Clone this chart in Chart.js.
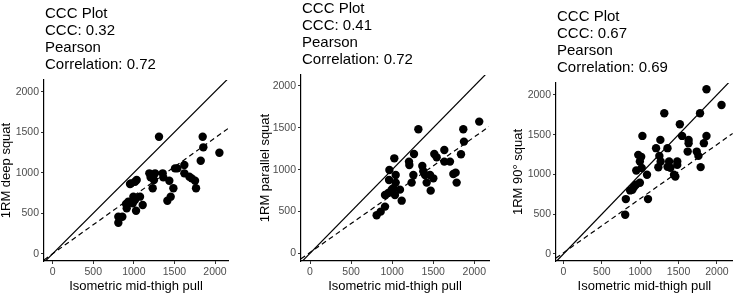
<!DOCTYPE html>
<html><head><meta charset="utf-8">
<script src="https://cdn.jsdelivr.net/npm/chart.js@4"></script>
<style>
html,body{margin:0;padding:0;background:#fff;overflow:hidden;}
#wrap{position:relative;width:737px;height:294px;}
canvas{position:absolute;left:0;top:0;}
</style></head><body>
<div id="wrap">
<canvas id="c1" width="737" height="294"></canvas>
<canvas id="c2" width="737" height="294"></canvas>
<canvas id="c3" width="737" height="294"></canvas>
</div>
<script>
// ---------- data ----------
const tickValues = [0, 500, 1000, 1500, 2000];
const xAxisTitle = 'Isometric mid-thigh pull';
const yAxisTitles = ['1RM deep squat', '1RM parallel squat', '1RM 90° squat'];
const titleDeep = ['CCC Plot', 'CCC: 0.32', 'Pearson', 'Correlation: 0.72'];
const titleParallel = ['CCC Plot', 'CCC: 0.41', 'Pearson', 'Correlation: 0.72'];
const titleNinety = ['CCC Plot', 'CCC: 0.67', 'Pearson', 'Correlation: 0.69'];

const deepX = [809,858,809,904,912,932,953,965,1014,1035,994,1014,1027,986,1076,1109,1191,1207,1261,1248,1232,1310,1355,1363,1437,1454,1413,1487,1507,1536,1622,1622,1684,1713,1754,1766,1824,1848,1856,2054];
const deepY = [457,457,383,613,560,642,860,868,889,909,704,663,531,621,704,601,992,942,992,909,807,1444,992,942,901,704,654,807,1053,1053,1095,992,951,930,901,807,1148,1444,1313,1247];

const parallelX = [811,860,913,913,953,962,966,994,1014,1026,1034,1043,1043,1095,1116,1205,1209,1237,1258,1266,1319,1367,1379,1400,1420,1461,1469,1501,1513,1542,1635,1635,1704,1745,1773,1785,1838,1866,1874,2060];
const parallelY = [454,498,558,697,721,876,996,761,777,1135,697,845,936,761,629,1096,1056,845,936,1187,1482,1044,980,936,845,936,749,896,1187,1147,1235,1096,1096,948,964,845,1183,1482,1335,1574];

const ninetyX = [1864,2060,1314,1780,1517,1029,1263,1546,1631,1631,1864,1830,1207,1356,1619,1737,1759,975,1013,1250,996,1267,1377,1483,1483,1788,1356,1394,949,1089,1441,1458,996,805,813,1102,869,898,919,945,1020,1237];
const ninetyY = [2070,1873,1769,1769,1631,1484,1434,1484,1434,1393,1484,1393,1330,1330,1287,1287,1233,1246,1221,1233,1162,1162,1162,1162,1120,1092,1095,1083,1049,995,995,974,895,493,690,690,799,807,841,870,1080,1090];

const fitSlopes = [0.715, 0.69, 0.68];
const fitIntercepts = [0, 10, 15];

// ---------- layout ----------
const FONT = '"Liberation Sans", Arial, sans-serif';
const panels = [
  {id:'c1', xs:deepX, ys:deepY, title:titleDeep, yTitle:yAxisTitles[0], k:0,
   scaleLeft:0, areaLeft:44, areaRight:228, areaTop:80, xMin:-107, xMax:2160, yMin:-90, yMax:2144},
  {id:'c2', xs:parallelX, ys:parallelY, title:titleParallel, yTitle:yAxisTitles[1], k:1,
   scaleLeft:258.5, areaLeft:301, areaRight:489, areaTop:75, xMin:-110, xMax:2179, yMin:-92, yMax:2131},
  {id:'c3', xs:ninetyX, ys:ninetyY, title:titleNinety, yTitle:yAxisTitles[2], k:2,
   scaleLeft:511.5, areaLeft:556, areaRight:737, areaTop:83, xMin:-97, xMax:2207, yMin:-88, yMax:2149}
];

const titleBlock = {
  id: 'titleBlock',
  afterDraw(chart, args, opts) {
    const {ctx, chartArea} = chart;
    ctx.save();
    ctx.font = '15px ' + FONT;
    ctx.fillStyle = '#000';
    ctx.textBaseline = 'middle';
    ctx.textAlign = 'left';
    const n = opts.lines.length;
    opts.lines.forEach((t, i) => {
      ctx.fillText(t, chartArea.left + 1, chartArea.top - 15.5 - (n - 1 - i) * 17);
    });
    ctx.restore();
  }
};

function axisCommon(min, max) {
  return {
    type: 'linear', min, max,
    afterBuildTicks: s => { s.ticks = tickValues.map(v => ({value: v})); },
    grid: {drawOnChartArea: false, drawTicks: true, tickLength: 3, tickColor: '#333', tickWidth: 1},
    border: {display: true, color: '#000', width: 1.2},
    ticks: {font: {family: FONT, size: 10.5}, color: '#4d4d4d', padding: 2, autoSkip: false, maxRotation: 0,
            callback: v => String(v)}
  };
}

panels.forEach(p => {
  const pts = p.xs.map((x, i) => ({x, y: p.ys[i]}));
  const ident = [p.xMin, p.xMax].map(x => ({x, y: x}));
  const fit = [p.xMin, p.xMax].map(x => ({x, y: fitSlopes[p.k] * x + fitIntercepts[p.k]}));
  const xs = axisCommon(p.xMin, p.xMax);
  xs.afterFit = s => { s.height = 32; };
  xs.title = {display: true, text: xAxisTitle, color: '#000', font: {family: FONT, size: 13, lineHeight: 1}, padding: {top: 0, bottom: 0}};
  const ys = axisCommon(p.yMin, p.yMax);
  ys.afterFit = s => { s.width = p.areaLeft - p.scaleLeft; };
  ys.title = {display: true, text: p.yTitle, color: '#000', font: {family: FONT, size: 13, lineHeight: 1}, padding: {top: 0, bottom: 0}};
  new Chart(document.getElementById(p.id), {
    type: 'scatter',
    data: {datasets: [
      {data: ident, showLine: true, borderColor: '#000', borderWidth: 1.2, pointRadius: 0, fill: false, clip: 0},
      {data: fit, showLine: true, borderColor: '#000', borderWidth: 1.2, borderDash: [5, 3.5], pointRadius: 0, fill: false, clip: 0},
      {data: pts, pointRadius: 4.2, pointHoverRadius: 4.2, backgroundColor: '#000', borderWidth: 0}
    ]},
    options: {
      responsive: false, animation: false, devicePixelRatio: 1, events: [],
      layout: {padding: {left: p.scaleLeft, right: 737 - p.areaRight, top: p.areaTop, bottom: 1}},
      plugins: {legend: {display: false}, tooltip: {enabled: false}, titleBlock: {lines: p.title}},
      scales: {x: xs, y: ys}
    },
    plugins: [titleBlock]
  });
});
</script>
</body></html>
